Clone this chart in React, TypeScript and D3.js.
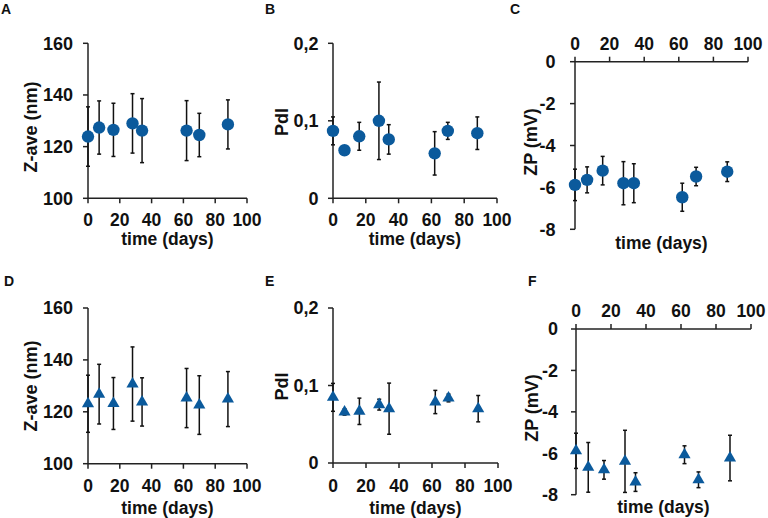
import * as d3 from 'd3'

// sampling days (same for every panel)
const days = [0, 7, 16, 28, 34, 62, 70, 88]
const xTicks = [0, 20, 40, 60, 80, 100]

// circles (top row)
const zaveA = [123.9, 127.4, 126.5, 129.0, 126.2, 126.2, 124.5, 128.6]
const zaveAErr = [11.5, 10.3, 10.3, 11.5, 12.4, 11.6, 8.4, 9.5]
const pdiB = [0.087, 0.062, 0.08, 0.1, 0.076, 0.058, 0.087, 0.084]
const pdiBErr = [0.018, 0.003, 0.018, 0.05, 0.019, 0.028, 0.011, 0.021]
const zpC = [-5.88, -5.64, -5.2, -5.8, -5.8, -6.47, -5.48, -5.25]
const zpCErr = [0.75, 0.62, 0.68, 1.03, 0.93, 0.67, 0.44, 0.47]

// triangles (bottom row)
const zaveD = [123.1, 126.8, 123.2, 130.7, 123.8, 125.3, 122.6, 124.9]
const zaveDErr = [11, 11.5, 10, 14.3, 9.3, 11.4, 11.3, 10.6]
const pdiE = [0.0847, 0.0658, 0.0667, 0.0753, 0.0701, 0.0787, 0.0839, 0.0701]
const pdiEErr = [0.018, 0.004, 0.017, 0.007, 0.033, 0.015, 0.005, 0.017]
const zpF = [-5.88, -6.68, -6.8, -6.39, -7.39, -6.07, -7.28, -6.23]
const zpFErr = [0.85, 1.2, 0.45, 1.5, 0.45, 0.43, 0.38, 1.1]

const zaveTicks = [100, 120, 140, 160]
const zaveTickLabels = ['100', '120', '140', '160']
const pdiTicks = [0, 0.1, 0.2]
const pdiTickLabels = ['0', '0,1', '0,2']
const zpTicks = [0, -2, -4, -6, -8]
const zpTickLabels = ['0', '-2', '-4', '-6', '-8']

const BLUE = '#0b5a9c'
const INK = '#111'
const AXIS = '#222'
const FONT = '"Liberation Sans", Arial, sans-serif'

type PanelSpec = {
  letter: string
  lx: number
  ly: number
  x0: number
  x1: number
  yTop: number
  yBot: number
  domain: [number, number]
  ticks: number[]
  tickLabels: string[]
  values: number[]
  errs: number[]
  marker: 'circle' | 'triangle'
  yLabel: string
  yLabelX: number
  yLabelY: number
  xLabelY: number
  tickLabelGap: number
  topAxis: boolean
  xTickLabelY: number
}

const panels: PanelSpec[] = [
  {
    letter: 'A', lx: 1, ly: 13.5, x0: 88, x1: 247, yTop: 43.3, yBot: 198.3,
    domain: [100, 160], ticks: zaveTicks, tickLabels: zaveTickLabels, values: zaveA, errs: zaveAErr,
    marker: 'circle', yLabel: 'Z-ave (nm)', yLabelX: 31, yLabelY: 127, xLabelY: 244.5,
    tickLabelGap: 15, topAxis: false, xTickLabelY: 225.5,
  },
  {
    letter: 'B', lx: 265, ly: 13.5, x0: 333, x1: 497, yTop: 43.3, yBot: 198.3,
    domain: [0, 0.2], ticks: pdiTicks, tickLabels: pdiTickLabels, values: pdiB, errs: pdiBErr,
    marker: 'circle', yLabel: 'PdI', yLabelX: 281.5, yLabelY: 122, xLabelY: 244.5,
    tickLabelGap: 14.5, topAxis: false, xTickLabelY: 225.5,
  },
  {
    letter: 'C', lx: 510, ly: 13.5, x0: 575, x1: 748, yTop: 61.7, yBot: 229.3,
    domain: [-8, 0], ticks: zpTicks, tickLabels: zpTickLabels, values: zpC, errs: zpCErr,
    marker: 'circle', yLabel: 'ZP (mV)', yLabelX: 530.5, yLabelY: 142, xLabelY: 249,
    tickLabelGap: 19.5, topAxis: true, xTickLabelY: 50,
  },
  {
    letter: 'D', lx: 4, ly: 286, x0: 88, x1: 247, yTop: 308, yBot: 463.7,
    domain: [100, 160], ticks: zaveTicks, tickLabels: zaveTickLabels, values: zaveD, errs: zaveDErr,
    marker: 'triangle', yLabel: 'Z-ave (nm)', yLabelX: 31, yLabelY: 386, xLabelY: 514,
    tickLabelGap: 15, topAxis: false, xTickLabelY: 491.5,
  },
  {
    letter: 'E', lx: 265, ly: 286, x0: 333, x1: 498, yTop: 308, yBot: 463,
    domain: [0, 0.2], ticks: pdiTicks, tickLabels: pdiTickLabels, values: pdiE, errs: pdiEErr,
    marker: 'triangle', yLabel: 'PdI', yLabelX: 281.5, yLabelY: 386.5, xLabelY: 514,
    tickLabelGap: 14.5, topAxis: false, xTickLabelY: 491.5,
  },
  {
    letter: 'F', lx: 528, ly: 286, x0: 576, x1: 751, yTop: 329, yBot: 494.7,
    domain: [-8, 0], ticks: zpTicks, tickLabels: zpTickLabels, values: zpF, errs: zpFErr,
    marker: 'triangle', yLabel: 'ZP (mV)', yLabelX: 531.5, yLabelY: 408, xLabelY: 513,
    tickLabelGap: 18, topAxis: true, xTickLabelY: 316.5,
  },
]

const triPath = d3.symbol(d3.symbolTriangle, 64)() ?? ''

function Panel({ p }: { p: PanelSpec }) {
  const x = d3.scaleLinear().domain([0, 100]).range([p.x0, p.x1])
  const y = d3.scaleLinear().domain(p.domain).range([p.yBot, p.yTop])
  // x axis sits at the top (y = 0) for ZP panels, otherwise at the bottom
  const axisY = p.topAxis ? y(0) : p.yBot
  const tickDir = p.topAxis ? -1 : 1

  return (
    <g>
      <text x={p.lx} y={p.ly} fontSize={14} fontWeight="bold" fill={INK}>
        {p.letter}
      </text>

      {/* y axis */}
      <line x1={p.x0} x2={p.x0} y1={p.yTop} y2={p.yBot} stroke={AXIS} strokeWidth={1.5} />
      {p.ticks.map((t, i) => (
        <g key={'yt' + t}>
          <line x1={p.x0 - 5} x2={p.x0} y1={y(t)} y2={y(t)} stroke={AXIS} strokeWidth={1.5} />
          <text
            x={p.x0 - p.tickLabelGap}
            y={y(t)}
            dy="0.36em"
            textAnchor="end"
            fontSize={18}
            fontWeight="bold"
            fill={INK}
          >
            {p.tickLabels[i]}
          </text>
        </g>
      ))}

      {/* x axis */}
      <line x1={p.x0} x2={p.x1} y1={axisY} y2={axisY} stroke={AXIS} strokeWidth={1.5} />
      {xTicks.map((t) => (
        <g key={'xt' + t}>
          <line x1={x(t)} x2={x(t)} y1={axisY} y2={axisY + 5 * tickDir} stroke={AXIS} strokeWidth={1.5} />
          <text x={x(t)} y={p.xTickLabelY} textAnchor="middle" fontSize={17.5} fontWeight="bold" fill={INK}>
            {t}
          </text>
        </g>
      ))}

      <text
        x={(p.x0 + p.x1) / 2}
        y={p.xLabelY}
        textAnchor="middle"
        fontSize={17.5}
        fontWeight="bold"
        fill={INK}
      >
        time (days)
      </text>
      <text
        transform={`translate(${p.yLabelX},${p.yLabelY}) rotate(-90)`}
        dy="0.36em"
        textAnchor="middle"
        fontSize={18}
        fontWeight="bold"
        fill={INK}
      >
        {p.yLabel}
      </text>

      {/* error bars */}
      {days.map((d, i) => {
        const cx = x(d)
        const hi = y(p.values[i] + p.errs[i])
        const lo = y(p.values[i] - p.errs[i])
        return (
          <g key={'e' + d} stroke={INK} strokeWidth={1.5}>
            <line x1={cx} x2={cx} y1={hi} y2={lo} />
            <line x1={cx - 2} x2={cx + 2} y1={hi} y2={hi} />
            <line x1={cx - 2} x2={cx + 2} y1={lo} y2={lo} />
          </g>
        )
      })}

      {/* markers */}
      {days.map((d, i) =>
        p.marker === 'circle' ? (
          <circle key={'m' + d} cx={x(d)} cy={y(p.values[i])} r={6.2} fill={BLUE} />
        ) : (
          <path key={'m' + d} d={triPath} transform={`translate(${x(d)},${y(p.values[i])})`} fill={BLUE} />
        ),
      )}
    </g>
  )
}

export default function App() {
  return (
    <svg
      width={768}
      height={518}
      style={{ position: 'absolute', left: 0, top: 0, background: '#fff', fontFamily: FONT }}
    >
      <rect width={768} height={518} fill="#fff" />
      {panels.map((p) => (
        <Panel key={p.letter} p={p} />
      ))}
    </svg>
  )
}
